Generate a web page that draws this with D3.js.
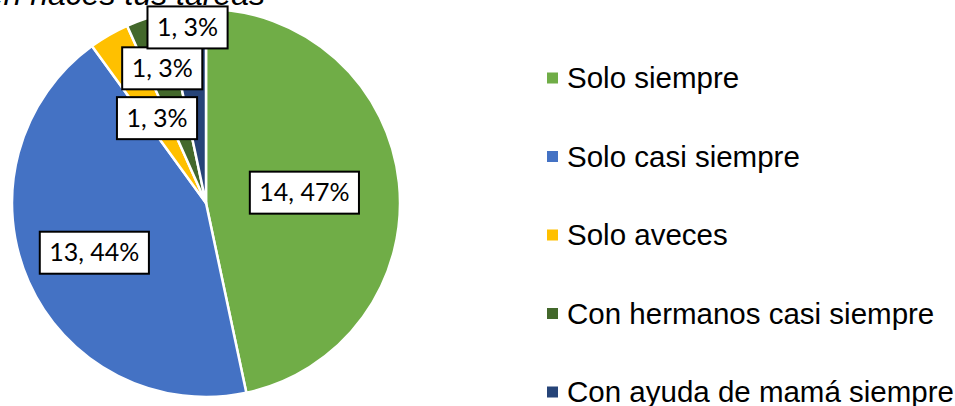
<!DOCTYPE html>
<html>
<head>
<meta charset="utf-8">
<script src="https://cdn.jsdelivr.net/npm/d3@7"></script>
<style>
  html, body { margin: 0; padding: 0; background: #fff; }
  svg { display: block; }
</style>
</head>
<body>
<div id="chart"></div>
<script>
/* datos del gráfico */
const categories = ['Solo siempre', 'Solo casi siempre', 'Solo aveces', 'Con hermanos casi siempre', 'Con ayuda de mamá siempre'];
const values = [14, 13, 1, 1, 1];
const percentLabels = ['47%', '44%', '3%', '3%', '3%'];
const colors = ['#70AD47', '#4472C4', '#FFC000', '#43682B', '#264478'];
// distancia de cada etiqueta al centro (fracción del radio), como la coloca Excel
const labelRadius = [0.51, 0.63, 0.505, 0.73, 0.91];

const W = 955, H = 406;
const cx = 206, cy = 203, R = 194;

const svg = d3.select('#chart').append('svg').attr('width', W).attr('height', H);

// título (recortado arriba en el original)
svg.append('text')
  .attr('x', 265).attr('y', 5)
  .attr('text-anchor', 'end')
  .style('font-family', 'Liberation Sans, Arial, sans-serif')
  .style('font-style', 'italic')
  .style('font-size', '32px')
  .style('fill', '#000')
  .text('Con quién haces tus tareas');

const pie = d3.pie().sort(null).value(d => d);
const arcs = pie(values);
const arc = d3.arc().innerRadius(0).outerRadius(R);

const g = svg.append('g').attr('transform', `translate(${cx},${cy})`);

g.selectAll('path.slice').data(arcs).enter().append('path')
  .attr('class', 'slice')
  .attr('d', arc)
  .style('fill', (d, i) => colors[i])
  .style('stroke', '#fff')
  .style('stroke-width', 2.5)
  .style('stroke-linejoin', 'round');

/* --- etiquetas --- */
const lbl = g.selectAll('g.lbl').data(arcs).enter().append('g')
  .attr('class', 'lbl')
  .attr('transform', (d, i) => {
    const a = (d.startAngle + d.endAngle) / 2, r = R * labelRadius[i];
    return `translate(${Math.sin(a) * r},${-Math.cos(a) * r})`;
  });

const rects = lbl.append('rect')
  .style('fill', '#fff').style('stroke', '#000').style('stroke-width', 2);

const texts = lbl.append('text')
  .attr('text-anchor', 'middle')
  .attr('dy', '0.35em')
  .style('font-family', 'Lato, Carlito, Calibri, sans-serif')
  .style('font-size', '25px')
  .style('fill', '#000')
  .text((d, i) => `${values[i]}, ${percentLabels[i]}`);

texts.each(function(d, i) {
  const b = this.getBBox();
  const w = b.width + 19, h = 42;
  d3.select(rects.nodes()[i]).attr('x', -w / 2).attr('y', -h / 2).attr('width', w).attr('height', h);
});

/* --- leyenda --- */
const legY = d3.scaleLinear().domain([0, categories.length - 1]).range([78, 392]);
const leg = svg.selectAll('g.leg').data(categories).enter().append('g')
  .attr('class', 'leg')
  .attr('transform', (d, i) => `translate(547,${legY(i)})`);

leg.append('rect')
  .attr('x', 0).attr('y', -5.5).attr('width', 11).attr('height', 11)
  .style('fill', (d, i) => colors[i]);

leg.append('text')
  .attr('x', 20).attr('dy', '0.35em')
  .style('font-family', 'Liberation Sans, Arial, sans-serif')
  .style('font-size', '29.5px')
  .style('fill', '#000')
  .text(d => d);
</script>
</body>
</html>
